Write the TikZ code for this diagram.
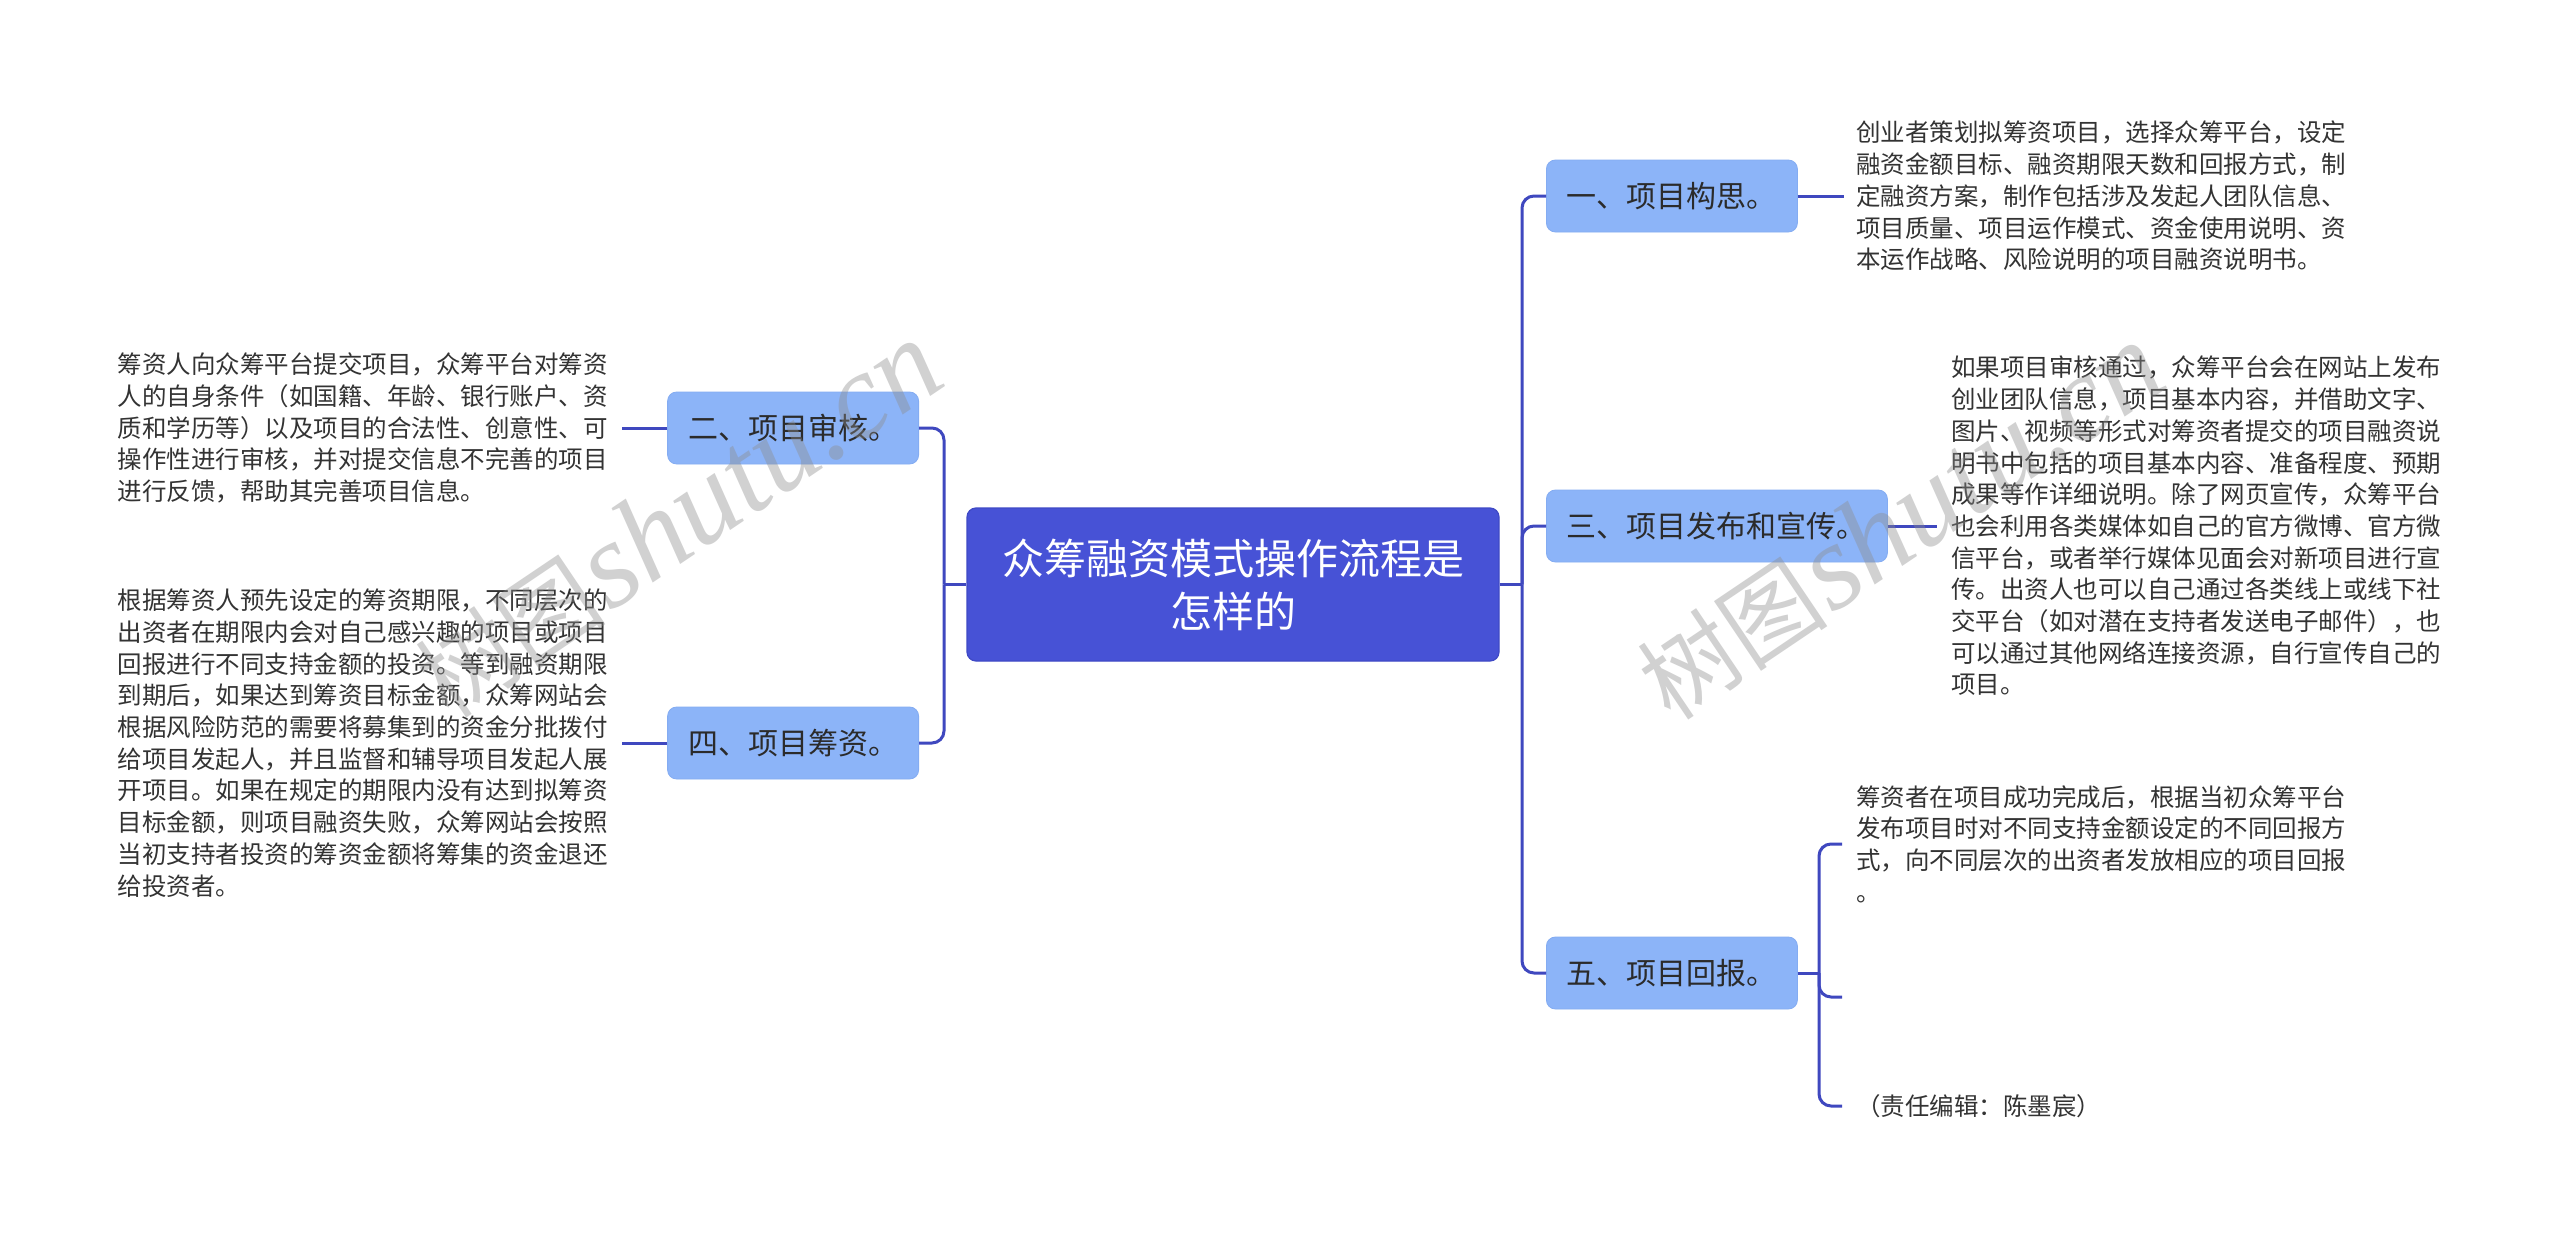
\documentclass[tikz,border=0pt]{standalone}
\usepackage{fontspec}
\setmainfont{Noto Sans CJK SC}
\newfontfamily\wmlatin{Liberation Serif}
\definecolor{rootblue}{HTML}{4752D6}
\definecolor{rootedge}{HTML}{3F49C6}
\definecolor{branchblue}{HTML}{8CB4F8}
\definecolor{branchedge}{HTML}{84ACF2}
\definecolor{connblue}{HTML}{3F48BF}
\definecolor{textdark}{HTML}{2B2B2B}
\definecolor{textgray}{HTML}{333333}
\begin{document}
\begin{tikzpicture}[x=1pt,y=-1pt,
  rootbox/.style={fill=rootblue, draw=rootedge, line width=1.2pt, rounded corners=9pt, text=white,
    font=\fontsize{42}{53}\selectfont, align=center, minimum width=532pt, minimum height=153pt, inner sep=0pt},
  branchbox/.style={fill=branchblue, draw=branchedge, line width=0.8pt, rounded corners=9pt, text=textdark,
    font=\fontsize{30}{36}\selectfont, minimum height=72pt, inner xsep=20.5pt, inner ysep=0pt},
  leaftext/.style={text=textgray, font=\fontsize{24.5}{31.7}\selectfont, align=left, inner xsep=13pt, inner ysep=0pt},
  conn/.style={draw=connblue, line width=3pt},
  elbow/.style={conn, rounded corners=12pt},
  wm/.style={text=black!45, opacity=0.4, inner sep=0pt}]
\useasboundingbox[fill=white] (0,0) rectangle (2560,1239);

% root
\node[rootbox] (root) at (1233,584.5) {众筹融资模式操作流程是\\怎样的};

% branches
\node[branchbox, anchor=west] (b1) at (1546,196) {一、项目构思。};
\node[branchbox, anchor=west] (b3) at (1546,526) {三、项目发布和宣传。};
\node[branchbox, anchor=west] (b5) at (1546,973) {五、项目回报。};
\node[branchbox, anchor=east] (b2) at (919,428) {二、项目审核。};
\node[branchbox, anchor=east] (b4) at (919,743) {四、项目筹资。};

% leaves
\node[leaftext, anchor=west, inner xsep=12pt] (l1) at (1844,196) {创业者策划拟筹资项目，选择众筹平台，设定\\融资金额目标、融资期限天数和回报方式，制\\定融资方案，制作包括涉及发起人团队信息、\\项目质量、项目运作模式、资金使用说明、资\\本运作战略、风险说明的项目融资说明书。};
\node[leaftext, anchor=west, inner xsep=14pt] (l3) at (1937,526) {如果项目审核通过，众筹平台会在网站上发布\\创业团队信息，项目基本内容，并借助文字、\\图片、视频等形式对筹资者提交的项目融资说\\明书中包括的项目基本内容、准备程度、预期\\成果等作详细说明。除了网页宣传，众筹平台\\也会利用各类媒体如自己的官方微博、官方微\\信平台，或者举行媒体见面会对新项目进行宣\\传。出资人也可以自己通过各类线上或线下社\\交平台（如对潜在支持者发送电子邮件），也\\可以通过其他网络连接资源，自行宣传自己的\\项目。};
\node[leaftext, anchor=east, inner xsep=14pt] (l2) at (622,428) {筹资人向众筹平台提交项目，众筹平台对筹资\\人的自身条件（如国籍、年龄、银行账户、资\\质和学历等）以及项目的合法性、创意性、可\\操作性进行审核，并对提交信息不完善的项目\\进行反馈，帮助其完善项目信息。};
\node[leaftext, anchor=east, inner xsep=14pt] (l4) at (622,743) {根据筹资人预先设定的筹资期限，不同层次的\\出资者在期限内会对自己感兴趣的项目或项目\\回报进行不同支持金额的投资。等到融资期限\\到期后，如果达到筹资目标金额，众筹网站会\\根据风险防范的需要将募集到的资金分批拨付\\给项目发起人，并且监督和辅导项目发起人展\\开项目。如果在规定的期限内没有达到拟筹资\\目标金额，则项目融资失败，众筹网站会按照\\当初支持者投资的筹资金额将筹集的资金退还\\给投资者。};
\node[leaftext, anchor=west, inner xsep=14pt] (l5a) at (1842,844) {筹资者在项目成功完成后，根据当初众筹平台\\发布项目时对不同支持金额设定的不同回报方\\式，向不同层次的出资者发放相应的项目回报\\。};
\coordinate (l5b) at (1842,997);
\node[leaftext, anchor=west, inner xsep=14pt] (l5c) at (1842,1106) {（责任编辑：陈墨宸）};

% junctions
\coordinate (rj) at (1522,584.5);
\coordinate (lj) at (944,584.5);
\coordinate (j5) at (1819,973);

% root to branches
\draw[conn] (root.east) -- (rj);
\draw[elbow] (rj) |- (b1.west);
\draw[elbow] (rj) |- (b3.west);
\draw[elbow] (rj) |- (b5.west);
\draw[conn] (root.west) -- (lj);
\draw[elbow] (lj) |- (b2.east);
\draw[elbow] (lj) |- (b4.east);

% branches to leaves
\draw[conn] (b1.east) -- (l1.west);
\draw[conn] (b3.east) -- (l3.west);
\draw[conn] (b2.west) -- (l2.east);
\draw[conn] (b4.west) -- (l4.east);
\draw[conn] (b5.east) -- (j5);
\draw[elbow] (j5) |- (l5a.west);
\draw[elbow] (j5) |- (l5b);
\draw[elbow] (j5) |- (l5c.west);

% watermarks
\node[wm, rotate=34] (wm1) at (678,520) {{\fontsize{96}{96}\selectfont 树图} {\wmlatin\itshape\fontsize{122}{122}\selectfont shutu.cn}};
\node[wm, rotate=34] (wm2) at (1900,522) {{\fontsize{96}{96}\selectfont 树图} {\wmlatin\itshape\fontsize{122}{122}\selectfont shutu.cn}};
\end{tikzpicture}
\end{document}
